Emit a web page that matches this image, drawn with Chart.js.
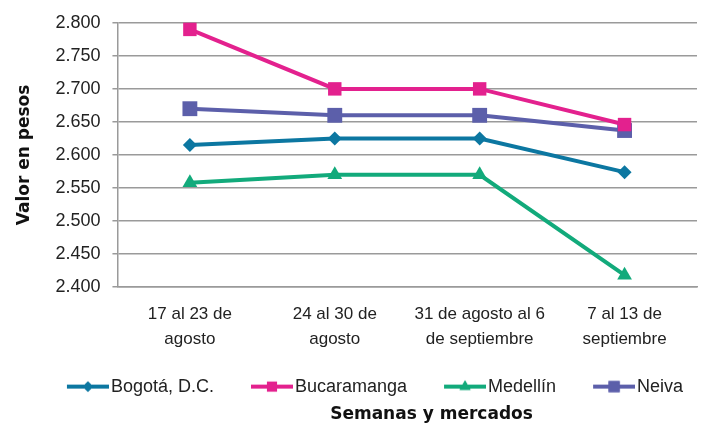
<!DOCTYPE html>
<html lang="es">
  <head>
    <meta charset="UTF-8" />
    <title>Valor en pesos por semana</title>
    <style>
      * {
        box-sizing: border-box;
        margin: 0;
        padding: 0;
      }
      body {
        background: #fff;
      }
    </style>
  </head>
  <body>
    <canvas id="chart" width="703" height="427"></canvas>

    <script src="https://cdn.jsdelivr.net/npm/chart.js"></script>
    <script>
      const semanas = [
        ["17 al 23 de", "agosto"],
        ["24 al 30 de", "agosto"],
        ["31 de agosto al 6", "de septiembre"],
        ["7 al 13 de", "septiembre"],
      ];
      const mercados = ["Bogotá, D.C.", "Bucaramanga", "Medellín", "Neiva"];
      const bogota = [2615, 2625, 2625, 2574];
      const bucaramanga = [2790, 2700, 2700, 2646];
      const medellin = [2558, 2570, 2570, 2418];
      const neiva = [2670, 2660, 2660, 2637];
      const yMin = 2400;
      const yMax = 2800;
      const yStep = 50;

      const colores = ["#0c77a1", "#e3218e", "#12aa7b", "#5c5faa"];
      const marcas = ["rectRot", "rect", "triangle", "rect"];
      const radios = [7, 9.5, 8.5, 10.5];
      const series = [bogota, bucaramanga, medellin, neiva];

      const fuente = "'Liberation Sans', Arial, sans-serif";
      const fuenteTitulo = "'DejaVu Sans', Arial, sans-serif";

      // legend picture: line + marker, with empty room on the left for spacing
      function legendIcon(color, style, r) {
        const c = document.createElement("canvas");
        c.width = 70;
        c.height = 16;
        const g = c.getContext("2d");
        g.strokeStyle = color;
        g.lineWidth = 4;
        g.beginPath();
        g.moveTo(28, 8);
        g.lineTo(70, 8);
        g.stroke();
        g.fillStyle = color;
        Chart.helpers.drawPoint(g, { pointStyle: style, radius: r, borderWidth: 0 }, 49, 8);
        g.fill();
        return c;
      }

      function formatoMiles(v) {
        return String(Math.round(v)).replace(/\B(?=(\d{3})+(?!\d))/g, ".");
      }

      const datasets = series.map((d, i) => ({
        label: mercados[i],
        data: d,
        borderColor: colores[i],
        backgroundColor: colores[i],
        borderWidth: 4,
        pointStyle: marcas[i],
        pointRadius: radios[i],
        pointHoverRadius: radios[i],
        pointBorderWidth: 0,
        tension: 0,
        clip: false,
      }));

      const iconos = colores.map((c, i) => legendIcon(c, marcas[i], radios[i] * 0.75));

      // legend and bottom title sit right of centre in the original
      const desplazar = {
        id: "desplazar",
        afterLayout(chart) {
          chart.legend.left += 9;
          chart.legend.right += 9;
          chart.titleBlock.left += 76;
          chart.titleBlock.right += 76;
        },
      };

      new Chart(document.getElementById("chart").getContext("2d"), {
        type: "line",
        data: { labels: semanas, datasets: datasets },
        plugins: [desplazar],
        options: {
          responsive: false,
          animation: false,
          layout: { autoPadding: false, padding: { top: 20, right: 6, left: 14, bottom: 0 } },
          plugins: {
            legend: {
              position: "bottom",
              labels: {
                usePointStyle: true,
                pointStyleWidth: 56,
                padding: 16,
                color: "#222",
                font: { family: fuente, size: 18 },
                generateLabels: (chart) =>
                  chart.data.datasets.map((ds, i) => ({
                    text: ds.label,
                    pointStyle: iconos[i],
                    fillStyle: ds.borderColor,
                    strokeStyle: ds.borderColor,
                    lineWidth: 0,
                    fontColor: "#222",
                    datasetIndex: i,
                  })),
              },
            },
            title: {
              display: true,
              position: "bottom",
              text: "Semanas y mercados",
              color: "#111",
              font: { family: fuenteTitulo, size: 17, weight: "bold" },
              padding: { top: -1, bottom: 2 },
            },
            tooltip: { enabled: false },
          },
          scales: {
            x: {
              offset: true,
              grid: { display: false, drawTicks: false },
              border: { display: true, color: "#9a9a9a", width: 1.5 },
              ticks: {
                color: "#222",
                font: { family: fuente, size: 17, lineHeight: 1.47 },
                maxRotation: 0,
                padding: 15,
              },
              afterFit: (scale) => {
                scale.height -= 5.5;
                scale.paddingLeft = 0;
                scale.paddingRight = 0;
              },
            },
            y: {
              min: yMin,
              max: yMax,
              ticks: {
                stepSize: yStep,
                color: "#222",
                font: { family: fuente, size: 18 },
                padding: 12,
                callback: (v) => formatoMiles(v),
              },
              grid: { color: "#9a9a9a", lineWidth: 1.5, tickLength: 5 },
              border: { display: true, color: "#9a9a9a", width: 1.5 },
              title: {
                display: true,
                text: "Valor en pesos",
                color: "#111",
                font: { family: fuenteTitulo, size: 17, weight: "bold" },
                padding: { top: 0, bottom: 9 },
              },
            },
          },
        },
      });
    </script>
  </body>
</html>
